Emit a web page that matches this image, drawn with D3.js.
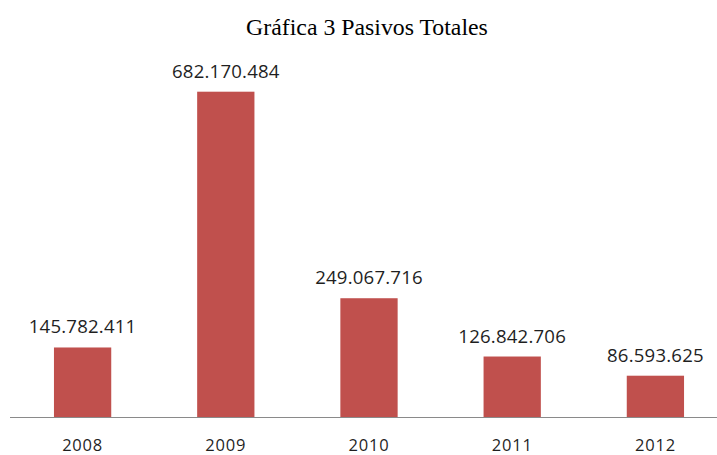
<!DOCTYPE html>
<html><head><meta charset="utf-8">
<script src="https://cdn.jsdelivr.net/npm/d3@7"></script>
<style>body{margin:0;background:#fff}svg{display:block}</style>
</head><body>
<svg id="c" width="717" height="455"></svg>
<script>
const categories = ["2008","2009","2010","2011","2012"];
const values = [145782411, 682170484, 249067716, 126842706, 86593625];
const valueLabels = ["145.782.411","682.170.484","249.067.716","126.842.706","86.593.625"];
const title = "Gráfica 3 Pasivos Totales";

const svg = d3.select("#c");
const baseY = 417;
const x = d3.scaleBand().domain(categories).range([11, 727]).paddingInner(0.6).paddingOuter(0.3);
const y = d3.scaleLinear().domain([0, 682170484]).range([baseY, 91.7]);

svg.append("text").attr("x", 367).attr("y", 35).attr("text-anchor","middle")
  .attr("font-family","'Liberation Serif', 'Times New Roman', serif").attr("font-size", 23.8)
  .attr("fill","#000").text(title);

svg.selectAll("rect.bar").data(values).join("rect").attr("class","bar")
  .attr("x",(d,i)=>x(categories[i])).attr("width",x.bandwidth())
  .attr("y",d=>y(d)).attr("height",d=>baseY-y(d)).attr("fill","#C0504D");

svg.append("line").attr("x1",10).attr("x2",717).attr("y1",baseY+0.5).attr("y2",baseY+0.5)
  .attr("stroke","#8a8a8a").attr("stroke-width",1.2);

svg.selectAll("text.val").data(values).join("text").attr("class","val")
  .attr("x",(d,i)=>x(categories[i])+x.bandwidth()/2).attr("y",d=>y(d)-14)
  .attr("text-anchor","middle").attr("font-family","'Open Sans', sans-serif").attr("font-size",18.6)
  .attr("letter-spacing",0.2).attr("fill","#1f1f1f").text((d,i)=>valueLabels[i]);

const xAxis = d3.axisBottom(x).tickSize(0).tickPadding(0);
const g = svg.append("g").attr("transform",`translate(0,${baseY})`).call(xAxis);
g.select(".domain").remove();
g.selectAll("text").attr("y", 0).attr("dy", 33.5).attr("font-family","'Open Sans', sans-serif")
  .attr("font-size",16.5).attr("letter-spacing",0.8).attr("fill","#1f1f1f");
</script>
</body></html>
